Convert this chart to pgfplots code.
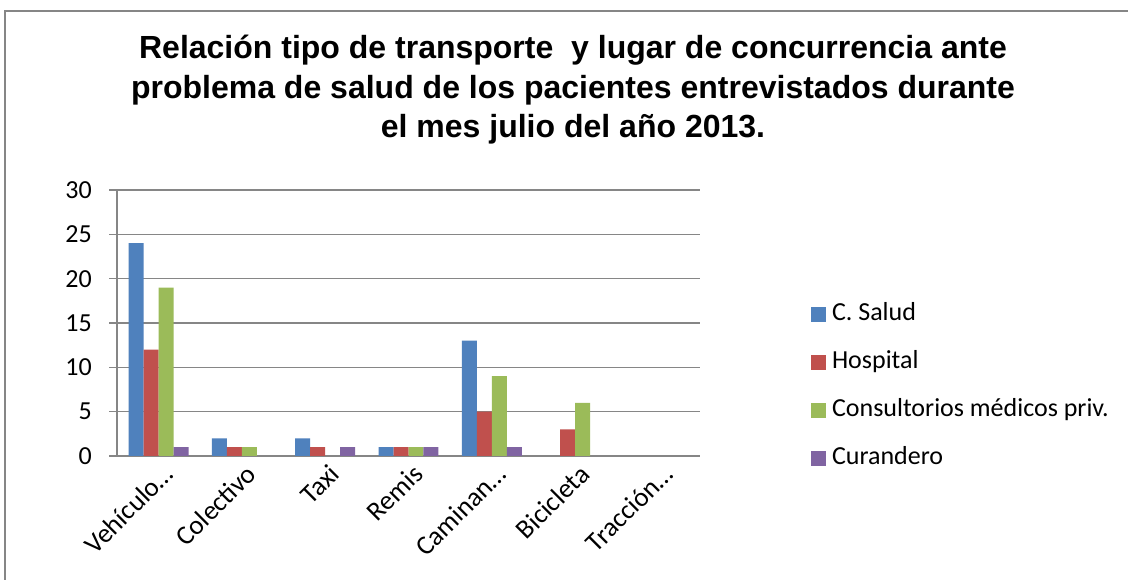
\documentclass[border=0pt]{standalone}
\usepackage{pgfplots}
\pgfplotsset{compat=1.18}
\usepackage{fontspec}
\setmainfont{Carlito}
\newfontfamily\titlefont{Liberation Sans}
\definecolor{cblue}{RGB}{79,129,189}
\definecolor{cred}{RGB}{192,80,77}
\definecolor{cgreen}{RGB}{155,187,89}
\definecolor{cpurple}{RGB}{128,100,162}
\definecolor{gline}{RGB}{134,134,134}
\begin{document}
\begin{tikzpicture}
\path[use as bounding box] (0,0) rectangle (1128bp,580bp);
\fill[white] (0,0) rectangle (1128bp,580bp);
\draw[gline, line width=1.3bp] (5bp,0) -- (5bp,569bp) -- (1128bp,569bp);
\node[font={\titlefont\bfseries\fontsize{32bp}{39.5bp}\selectfont}, align=center, inner sep=0pt] at (573bp,490bp)
 {Relación tipo de transporte\ \ y lugar de concurrencia ante\\problema de salud de los pacientes entrevistados durante\\el mes julio del año 2013.};
\begin{axis}[
 at={(117bp,124bp)}, anchor=south west,
 scale only axis, width=583bp, height=266bp,
 ybar=0pt, bar width=0.18,
 xmin=-0.5, xmax=6.5, ymin=0, ymax=30,
 ytick={0,5,...,30},
 xtick={0,...,6},
 xticklabels={Vehículo…,Colectivo,Taxi,Remis,Caminan…,Bicicleta,Tracción…},
 minor xtick={-0.5,0.5,...,6.5},
 xtick style={draw=none},
 minor tick length=8bp, major tick length=8bp,
 tick align=outside,
 axis x line*=bottom, axis y line*=left,
 axis line style={gline, line width=1.3bp, -},
 every tick/.style={gline, line width=1.3bp},
 minor tick style={gline, line width=1.3bp},
 ytick style={gline, line width=1.3bp},
 ymajorgrids, major grid style={gline, line width=1.3bp},
 /pgf/number format/assume math mode=true,
 tick label style={font=\fontsize{26bp}{30bp}\selectfont, text=black},
 yticklabel style={inner sep=0pt, xshift=-17bp},
 xticklabel style={rotate=45, anchor=north east, inner sep=0pt, xshift=3bp, yshift=-1bp, font=\fontsize{27bp}{30bp}\selectfont},
 legend style={draw=none, fill=none, at={(axis description cs:1.185,0.262)}, anchor=west,
   font=\fontsize{26bp}{30bp}\selectfont,
   nodes={inner sep=0pt, text height=18bp, text depth=6bp},
   row sep=24bp, /tikz/every odd column/.append style={column sep=6bp}},
 legend cell align=left,
 legend image code/.code={\fill[#1] (0bp,-7.5bp) rectangle (15bp,7.5bp);},
 every axis plot/.append style={draw=none},
]
\addplot[fill=cblue] coordinates {(0,24) (1,2) (2,2) (3,1) (4,13) (5,0) (6,0)};
\addplot[fill=cred] coordinates {(0,12) (1,1) (2,1) (3,1) (4,5) (5,3) (6,0)};
\addplot[fill=cgreen] coordinates {(0,19) (1,1) (2,0) (3,1) (4,9) (5,6) (6,0)};
\addplot[fill=cpurple] coordinates {(0,1) (1,0) (2,1) (3,1) (4,1) (5,0) (6,0)};
\legend{C. Salud,Hospital,Consultorios médicos priv.,Curandero}
\end{axis}
\end{tikzpicture}
\end{document}
